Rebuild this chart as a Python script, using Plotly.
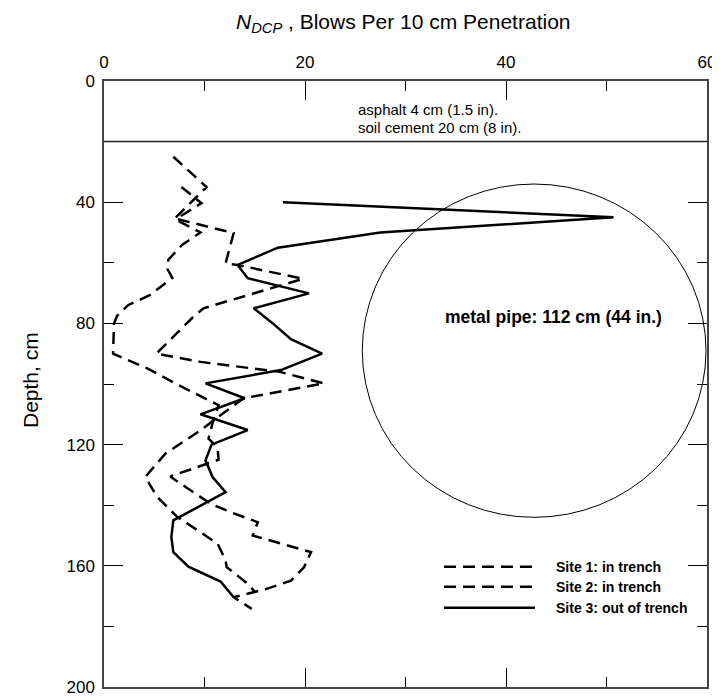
import plotly.graph_objects as go

# ---------------- data ----------------
site1_blows = [6.9, 10.2, 7.0, 9.6, 7.8, 6.4, 6.3, 6.8, 4.6, 2.4, 1.3, 1.0, 0.9, 4.4, 7.2, 11.4, 10.8, 10.4, 11.3, 11.4,
               6.6, 7.4, 10.6, 12.6, 15.3, 14.8, 20.6, 19.9, 18.6, 16.1, 12.9, 14.7]
site1_depth = [25, 35, 45.5, 50, 54, 59, 62, 65, 70.6, 74, 77.5, 80, 90, 95, 100, 107, 113, 118, 121, 125,
               130.5, 132.4, 139.5, 142.3, 145.6, 150, 155.5, 160.5, 164.9, 167.7, 170.4, 174.2]

site2_blows = [7.7, 9.7, 7.2, 12.9, 12.1, 13.3, 19.8, 9.9, 8.9, 5.2, 9.6, 17.5, 21.9, 13.9, 10.9, 9.6, 6.1,
               4.1, 5.3, 7.3, 9.6, 11.3, 12.1, 12.2, 14.1, 15.0]
site2_depth = [35, 40.3, 45.5, 50.2, 60.2, 60.7, 65.3, 75, 77.8, 90, 92.7, 96, 99.8, 104.7, 112, 115.3, 123,
               130.7, 137.3, 143.9, 148.9, 152.7, 158.2, 160.4, 165.4, 168.5]

site3_blows = [17.8, 50.7, 27.5, 17.3, 13.3, 14.3, 20.4, 14.9, 16.8, 18.6, 21.7, 17.6, 10.1, 14.0, 9.6, 14.3,
               10.7, 10.1, 10.8, 12.1, 6.9, 6.7, 6.9, 8.4, 11.6, 12.9]
site3_depth = [40, 45, 50, 55, 60.7, 65.1, 70.1, 75, 80, 85.2, 90, 95.4, 99.8, 104.7, 110, 115.2,
               120, 125.2, 130.7, 135.7, 145, 150.5, 155.5, 160.3, 165.2, 170.4]

series_names = ["Site 1: in trench", "Site 2: in trench", "Site 3: out of trench"]
series_dash = ["12px,7px", "12px,7px", "solid"]

x_ticks = [0, 20, 40, 60]
x_minor = [10, 30, 50]
y_ticks = [0, 40, 80, 120, 160, 200]
y_minor = [20, 60, 100, 140, 180]

layer_bottom = 20  # soil cement bottom, cm
layer_labels = ["asphalt 4 cm (1.5 in).", "soil cement 20 cm (8 in)."]
pipe_label = "metal pipe: 112 cm (44 in.)"
pipe_center_x, pipe_center_depth = 42.8, 89
pipe_radius_x, pipe_radius_depth = 17.1, 55

FONT = "Liberation Sans, Arial, Helvetica, sans-serif"

fig = go.Figure()
for xs, ds, dash, name in zip([site1_blows, site2_blows, site3_blows],
                              [site1_depth, site2_depth, site3_depth],
                              series_dash, series_names):
    fig.add_trace(go.Scatter(x=xs, y=ds, mode="lines", name=name,
                             line=dict(color="black", width=2.5, dash=dash),
                             showlegend=False, hoverinfo="skip"))

# pipe circle
fig.add_shape(type="circle", xref="x", yref="y",
              x0=pipe_center_x - pipe_radius_x, x1=pipe_center_x + pipe_radius_x,
              y0=pipe_center_depth - pipe_radius_depth, y1=pipe_center_depth + pipe_radius_depth,
              line=dict(color="black", width=1))
# layer boundary
fig.add_shape(type="line", xref="x", yref="y", x0=0, x1=60, y0=layer_bottom, y1=layer_bottom,
              line=dict(color="#222", width=1.5))

annotations = [
    dict(text=layer_labels[0], x=32.2, y=9.5, xref="x", yref="y", showarrow=False,
         font=dict(size=15, family=FONT, color="black")),
    dict(text=layer_labels[1], x=33.4, y=15.3, xref="x", yref="y", showarrow=False,
         font=dict(size=15, family=FONT, color="black")),
    dict(text="<b>" + pipe_label + "</b>", x=44.7, y=78, xref="x", yref="y", showarrow=False,
         font=dict(size=17.5, family=FONT, color="black")),
    dict(text="<i>N</i><sub><i>DCP</i></sub> , Blows Per 10 cm Penetration",
         x=0.4975, y=1.096, xref="paper", yref="paper", showarrow=False,
         xanchor="center", yanchor="middle", font=dict(size=21, family=FONT, color="black")),
    dict(text="Depth, cm", x=-0.1227, y=0.5066, xref="paper", yref="paper", showarrow=False,
         textangle=-90, xanchor="center", yanchor="middle",
         font=dict(size=21, family=FONT, color="black")),
]

# custom legend (long line samples as in the reference)
leg_y = [0.1986, 0.1656, 0.1309]
for name, dash, yy in zip(series_names, series_dash, leg_y):
    fig.add_shape(type="line", xref="paper", yref="paper", x0=0.5638, x1=0.7148, y0=yy, y1=yy,
                  line=dict(color="black", width=2.5, dash=dash))
    annotations.append(dict(text="<b>" + name + "</b>", x=0.7463, y=yy, xref="paper", yref="paper",
                            showarrow=False, xanchor="left", yanchor="middle",
                            font=dict(size=14, family=FONT, color="black")))

# the page places the figure 8px in from the top-left corner
fig.update_layout(
    width=712, height=692,
    margin=dict(l=96, r=13, t=73, b=13, autoexpand=False),
    plot_bgcolor="white", paper_bgcolor="white",
    font=dict(family=FONT, color="black"),
    annotations=annotations,
    showlegend=False,
)
fig.update_xaxes(range=[0, 60], side="top", tickvals=x_ticks, ticks="inside", ticklen=19,
                 tickwidth=1, tickcolor="black",
                 minor=dict(tickvals=x_minor, ticks="inside", ticklen=10, tickwidth=1, tickcolor="black"),
                 showline=True, linecolor="#444", linewidth=1.5, mirror="allticks",
                 showgrid=False, zeroline=False, tickfont=dict(size=17, family=FONT, color="black"),
                 ticklabelstandoff=4, automargin=False)
fig.update_yaxes(range=[200, 0], tickvals=y_ticks, ticks="inside", ticklen=19,
                 tickwidth=1, tickcolor="black",
                 minor=dict(tickvals=y_minor, ticks="inside", ticklen=10, tickwidth=1, tickcolor="black"),
                 showline=True, linecolor="#444", linewidth=1.5, mirror="allticks",
                 showgrid=False, zeroline=False, tickfont=dict(size=17, family=FONT, color="black"),
                 ticklabelstandoff=4, automargin=False)

fig.write_html("out.html")
